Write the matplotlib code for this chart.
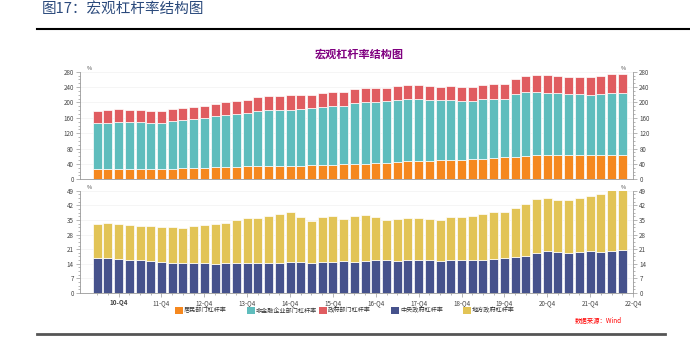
import matplotlib
matplotlib.use('Agg')
import matplotlib.pyplot as plt
from matplotlib.patches import Rectangle
from matplotlib.ticker import MultipleLocator, AutoMinorLocator
import numpy as np

plt.rcParams['font.family'] = ['Noto Sans CJK SC', 'DejaVu Sans']
plt.rcParams['axes.unicode_minus'] = False

# 数据：10-Q2 ~ 22-Q3，单位 %
quarters = [f'{y}-Q{q}' for y in range(10, 23) for q in range(1, 5)][1:]  # 10-Q2 .. 22-Q4 (轴)
xtick_labels = ['10-Q4', '11-Q4', '12-Q4', '13-Q4', '14-Q4', '15-Q4', '16-Q4',
                '17-Q4', '18-Q4', '19-Q4', '20-Q4', '21-Q4', '22-Q4']

household = [26.0, 26.8, 26.8, 27.7, 27.7, 27.7, 27.7, 27.7, 28.5, 30.3,
             30.3, 31.1, 32.0, 32.9, 33.7, 34.6, 35.5, 35.5, 35.5, 35.5,
             36.3, 37.2, 38.1, 38.9, 39.8, 39.8, 41.5, 43.3, 44.1, 46.8,
             47.6, 48.0, 49.3, 50.2, 51.5, 52.0, 53.7, 55.4, 57.2, 59.0,
             61.5, 62.3, 62.3, 62.3, 62.3, 62.3, 62.3, 62.3, 62.3, 62.3]
nonfin = [119.7, 120.6, 122.3, 120.5, 120.5, 118.9, 118.9, 123.3, 125.8, 126.6,
          128.3, 132.8, 135.3, 137.0, 138.0, 142.3, 144.8, 144.0, 144.0, 148.3,
          149.7, 151.8, 151.7, 152.7, 158.8, 160.5, 160.5, 160.4, 163.1, 161.3,
          160.5, 159.2, 157.0, 155.3, 153.1, 151.5, 154.4, 152.7, 151.8, 162.2,
          164.9, 164.9, 163.2, 161.4, 159.7, 158.9, 157.1, 159.7, 163.2, 163.2]
central = [16.9, 16.8, 16.3, 15.8, 15.7, 15.3, 14.8, 14.4, 14.4, 14.4,
           14.4, 14.0, 14.4, 14.5, 14.5, 14.2, 14.4, 14.5, 15.0, 14.8,
           14.5, 14.7, 15.0, 15.5, 15.0, 15.5, 16.0, 16.0, 15.5, 15.6,
           16.0, 16.0, 15.5, 15.8, 16.0, 15.8, 16.0, 16.4, 16.9, 17.1,
           17.7, 19.0, 20.1, 19.5, 19.3, 19.5, 20.0, 19.5, 20.0, 20.4]
local = [16.3, 16.7, 16.7, 16.6, 16.4, 16.8, 16.8, 17.0, 16.9, 17.7,
         18.0, 18.9, 19.3, 20.5, 21.4, 21.9, 22.5, 23.5, 23.8, 21.6,
         20.1, 21.9, 22.0, 19.9, 21.9, 21.7, 20.6, 18.8, 19.9, 20.5,
         20.0, 19.3, 19.5, 20.6, 20.3, 21.2, 21.8, 22.4, 21.7, 23.5,
         24.8, 25.9, 25.6, 25.0, 25.4, 26.0, 26.6, 27.8, 29.6, 29.4]

labels = ['居民部门杠杆率', '非金融企业部门杠杆率', '政府部门杠杆率', '中央政府杠杆率', '地方政府杠杆率']
colors = ['#F5881F', '#5FBDBD', '#E05C60', '#46528C', '#E2C456']

household = np.array(household)
nonfin = np.array(nonfin)
central = np.array(central)
local = np.array(local)
gov = central + local
x = np.arange(len(household))
xticks = [quarters.index(l) for l in xtick_labels]

fig = plt.figure(figsize=(6.9, 3.54), dpi=100)
W, H = 690, 354

def fx(px):
    return px / W

def fy(py):
    return 1 - py / H

# 标题和线
fig.text(fx(42), fy(9), '图17：宏观杠杆率结构图', fontsize=10.5, color='#2B4A7C',
         va='center', ha='left')
fig.add_artist(plt.Line2D([fx(37), 1], [fy(28.5), fy(28.5)], color='black', lw=1.5))
fig.add_artist(plt.Line2D([fx(37), fx(665)], [fy(333.5), fy(333.5)], color='#555555', lw=2))
fig.text(fx(359), fy(54), '宏观杠杆率结构图', fontsize=8, color='#800080',
         fontweight='bold', ha='center', va='center')

ax1 = fig.add_axes([fx(80), fy(179.3), fx(633) - fx(80), fy(71.7) - fy(179.3)])
ax2 = fig.add_axes([fx(80), fy(293), fx(633) - fx(80), fy(190.7) - fy(293)])

bw = 0.84
ekw = dict(edgecolor='white', linewidth=0.5, width=bw, zorder=3)
ax1.bar(x, household, color=colors[0], **ekw)
ax1.bar(x, nonfin, bottom=household, color=colors[1], **ekw)
ax1.bar(x, gov, bottom=household + nonfin, color=colors[2], **ekw)

ax2.bar(x, central, color=colors[3], **ekw)
ax2.bar(x, local, bottom=central, color=colors[4], **ekw)

ax1.set_ylim(0, 280)
ax1.yaxis.set_major_locator(MultipleLocator(40))
ax2.set_ylim(0, 49)
ax2.yaxis.set_major_locator(MultipleLocator(7))

for ax in (ax1, ax2):
    ax.set_xlim(-1.6, 50)
    ax.yaxis.set_minor_locator(AutoMinorLocator(4))
    ax.tick_params(axis='y', which='both', left=True, right=True, labelleft=True,
                   labelright=True, labelsize=4.5, labelcolor='#444444',
                   color='#999999', width=0.5, pad=1.5)
    ax.tick_params(axis='y', which='major', length=3)
    ax.tick_params(axis='y', which='minor', length=1.5)
    ax.grid(axis='y', color='#f2f2f2', lw=0.5, zorder=0)
    for s in ('top',):
        ax.spines[s].set_visible(False)
    for s in ('left', 'right', 'bottom'):
        ax.spines[s].set_color('#999999')
        ax.spines[s].set_linewidth(0.6)
    ax.text(0.012, 1.01, '%', transform=ax.transAxes, fontsize=4, color='#444444',
            ha='left', va='bottom')
    ax.text(0.988, 1.01, '%', transform=ax.transAxes, fontsize=4, color='#444444',
            ha='right', va='bottom')

ax1.set_xticks([])
ax2.set_xticks(xticks)
ax2.set_xticklabels(xtick_labels, fontsize=4.5, color='#444444')
ax2.get_xticklabels()[0].set_fontweight('bold')
ax2.set_xticks(x, minor=True)
ax2.tick_params(axis='x', which='major', length=3, color='#999999', width=0.5, pad=1.5)
ax2.tick_params(axis='x', which='minor', length=1.5, color='#999999', width=0.5)

# 图例
for i, (lab, col) in enumerate(zip(labels, colors)):
    x0 = 175 + 72 * i
    fig.add_artist(Rectangle((fx(x0), fy(314)), fx(8), fy(306.5) - fy(314),
                             facecolor=col, edgecolor='none', transform=fig.transFigure))
    fig.text(fx(x0 + 9), fy(310.5), lab, fontsize=4.4, color='#333333',
             ha='left', va='center')

fig.text(fx(622), fy(321), '数据来源：Wind', fontsize=4.6, color='#FF0000',
         style='italic', ha='right', va='center')

fig.savefig('out.png', dpi=100)
